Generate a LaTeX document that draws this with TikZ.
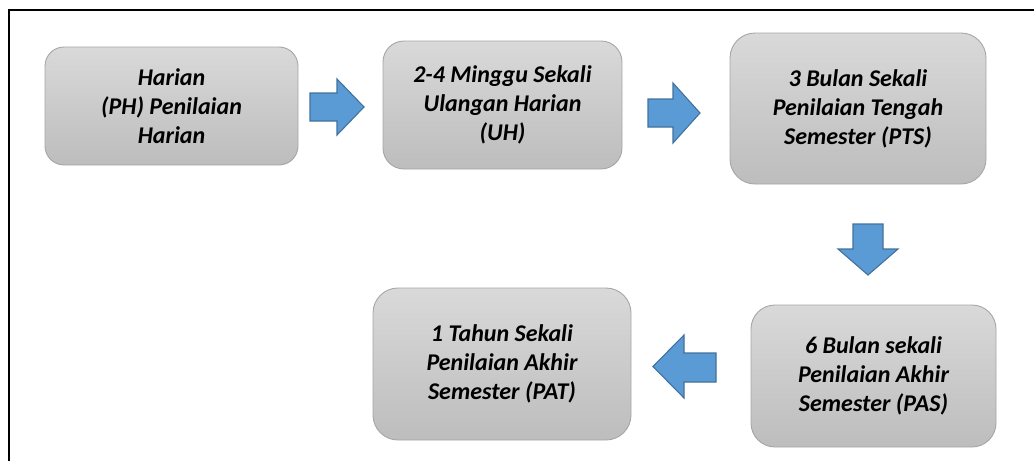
\documentclass[tikz,border=0pt]{standalone}
\usepackage{fontspec}
\setmainfont{Carlito}
\definecolor{boxtop}{HTML}{D9D9D9}
\definecolor{boxbot}{HTML}{BDBDBD}
\definecolor{boxline}{HTML}{A6A6A6}
\definecolor{arrfill}{HTML}{5B9BD5}
\definecolor{arrline}{HTML}{41719C}
\tikzset{
  stagebox/.style={rectangle, draw=boxline, line width=0.9pt, top color=boxtop, bottom color=boxbot,
    align=center, font=\fontsize{24}{29}\selectfont\bfseries\itshape, text=black, inner sep=0pt},
  blockarrow/.style={fill=arrfill, draw=arrline, line width=1.1pt, line join=miter},
  frameline/.style={draw=black, line width=2pt}
}
\begin{document}
\begin{tikzpicture}[x=1pt,y=-1pt]
\useasboundingbox (0,0) rectangle (1034,461);
% frame
\draw[frameline] (1034,10) -- (9,10) -- (9,461);
% boxes
\node[stagebox, minimum width=253pt, minimum height=118pt, rounded corners=19pt] (ph) at (171.5,106)
  {Harian\\(PH) Penilaian\\Harian};
\node[stagebox, minimum width=239pt, minimum height=128pt, rounded corners=21pt] (uh) at (502.5,105)
  {2-4 Minggu Sekali\\Ulangan Harian\\(UH)};
\node[stagebox, minimum width=256pt, minimum height=151pt, rounded corners=25pt] (pts) at (858,108.5)
  {3 Bulan Sekali\\Penilaian Tengah\\Semester (PTS)};
\node[stagebox, minimum width=258pt, minimum height=152pt, rounded corners=25pt] (pat) at (502,364)
  {1 Tahun Sekali\\Penilaian Akhir\\Semester (PAT)};
\node[stagebox, minimum width=245pt, minimum height=142pt, rounded corners=24pt] (pas) at (873.5,376)
  {6 Bulan sekali\\Penilaian Akhir\\Semester (PAS)};
% block arrows
\draw[blockarrow] (310,93) -- (337,93) -- (337,79) -- (364,107) -- (337,135) -- (337,121) -- (310,121) -- cycle;
\draw[blockarrow] (648,99) -- (673,99) -- (673,83) -- (700,113) -- (673,143) -- (673,127) -- (648,127) -- cycle;
\draw[blockarrow] (853,224) -- (883,224) -- (883,249) -- (898,249) -- (868,275) -- (838,249) -- (853,249) -- cycle;
\draw[blockarrow] (716,353) -- (684,353) -- (684,335) -- (653,366.5) -- (684,398) -- (684,382) -- (716,382) -- cycle;
\end{tikzpicture}
\end{document}
